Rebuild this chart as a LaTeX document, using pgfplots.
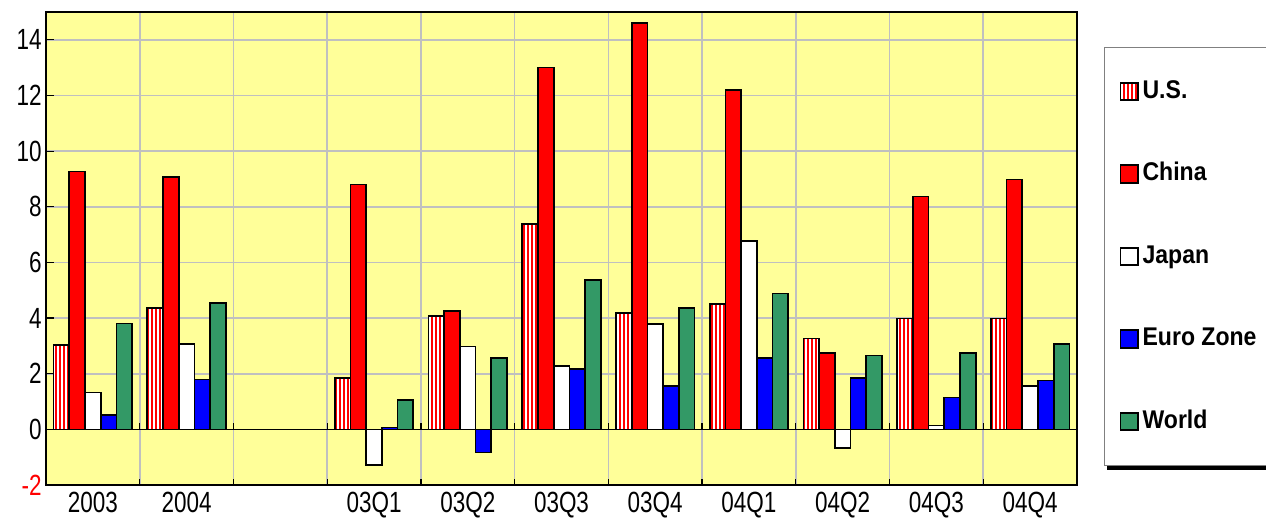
\documentclass[border=0pt]{standalone}
\usepackage{fontspec}
\setmainfont{Liberation Sans}[FakeStretch=0.77]
\newfontfamily\legfont{Liberation Sans}[FakeStretch=0.9]
\usepackage{pgfplots}
\pgfplotsset{compat=1.18}
\usetikzlibrary{patterns.meta}
\definecolor{bg}{RGB}{255,255,153}
\definecolor{wgreen}{RGB}{51,153,102}
\definecolor{gridc}{RGB}{192,192,192}
\begin{document}
\begin{tikzpicture}
\useasboundingbox (0,0) rectangle (633bp,262bp);
\begin{axis}[
  at={(23bp,19.5bp)}, anchor=south west,
  scale only axis, width=515.5bp, height=236.5bp,
  ybar=0pt, bar width=7.85bp,
  xmin=-0.5, xmax=10.5, ymin=-2, ymax=15,
  axis background/.style={fill=bg},
  xtick={0,...,10},
  xticklabels={2003,2004,,03Q1,03Q2,03Q3,03Q4,04Q1,04Q2,04Q3,04Q4},
  minor xtick={-0.5,0.5,...,10.5},
  xminorgrids=true,
  ytick={-2,0,...,14},
  yticklabels={\textcolor{red}{-2},0,2,4,6,8,10,12,14},
  ymajorgrids=true,
  grid style={gridc, line width=0.8bp},
  minor grid style={gridc, line width=0.8bp},
  xtick pos=bottom, ytick pos=left, tick align=inside,
  tick style={black, line width=0.6bp},
  major x tick style={draw=none},
  minor tick length=3bp, major tick length=4bp,
  axis line style={black, line width=0.7bp},
  tick label style={font=\fontsize{14.6bp}{16bp}\selectfont},
  xticklabel style={yshift=0bp},
  yticklabel style={inner xsep=2bp},
  legend image code/.code={\draw[#1] (0bp,-4.35bp) rectangle (8.7bp,4.35bp);},
  legend style={name=leg, at={(1.02619,0.926)}, anchor=north west, draw=gray, fill=white,
    line width=0.5bp, inner xsep=7.5bp, inner ysep=16bp, row sep=29.25bp,
    font=\legfont\bfseries\fontsize{12.8bp}{14bp}\selectfont,
    nodes={inner xsep=2bp, inner ysep=0pt, text height=9.3bp, text depth=2.7bp}},
  legend cell align=left,
  every axis plot/.append style={draw=black, line width=0.85bp},
]
\addplot[fill=white, postaction={pattern={Lines[angle=90,distance=2bp,line width=1.1bp]}, pattern color=red}] coordinates {
 (0,3.03) (1,4.37) (3,1.84) (4,4.07) (5,7.38) (6,4.17) (7,4.50) (8,3.27) (9,3.98) (10,3.98)};
\addlegendentry{U.S.}
\addplot[fill=red] coordinates {
 (0,9.27) (1,9.08) (3,8.8) (4,4.26) (5,13.0) (6,14.6) (7,12.2) (8,2.75) (9,8.37) (10,8.98)};
\addlegendentry{China}
\addplot[fill=white] coordinates {
 (0,1.32) (1,3.06) (3,-1.28) (4,2.98) (5,2.27) (6,3.78) (7,6.76) (8,-0.66) (9,0.14) (10,1.56)};
\addlegendentry{Japan}
\addplot[fill=blue] coordinates {
 (0,0.51) (1,1.79) (3,0.07) (4,-0.83) (5,2.18) (6,1.57) (7,2.56) (8,1.84) (9,1.14) (10,1.76)};
\addlegendentry{Euro Zone}
\addplot[fill=wgreen] coordinates {
 (0,3.80) (1,4.55) (3,1.05) (4,2.56) (5,5.38) (6,4.35) (7,4.88) (8,2.65) (9,2.75) (10,3.08)};
\addlegendentry{World}
\draw[black, line width=0.7bp] (axis cs:-0.5,0) -- (axis cs:10.5,0);
\pgfplotsinvokeforeach{0.5,1.5,...,9.5}{\draw[black, line width=0.6bp] (axis cs:#1,0) -- ++(0bp,3bp);}
\end{axis}
\fill[black] ([xshift=1.5bp,yshift=0.2bp]leg.south west) rectangle ([xshift=3bp,yshift=-2bp]leg.south east);
\end{tikzpicture}
\end{document}
